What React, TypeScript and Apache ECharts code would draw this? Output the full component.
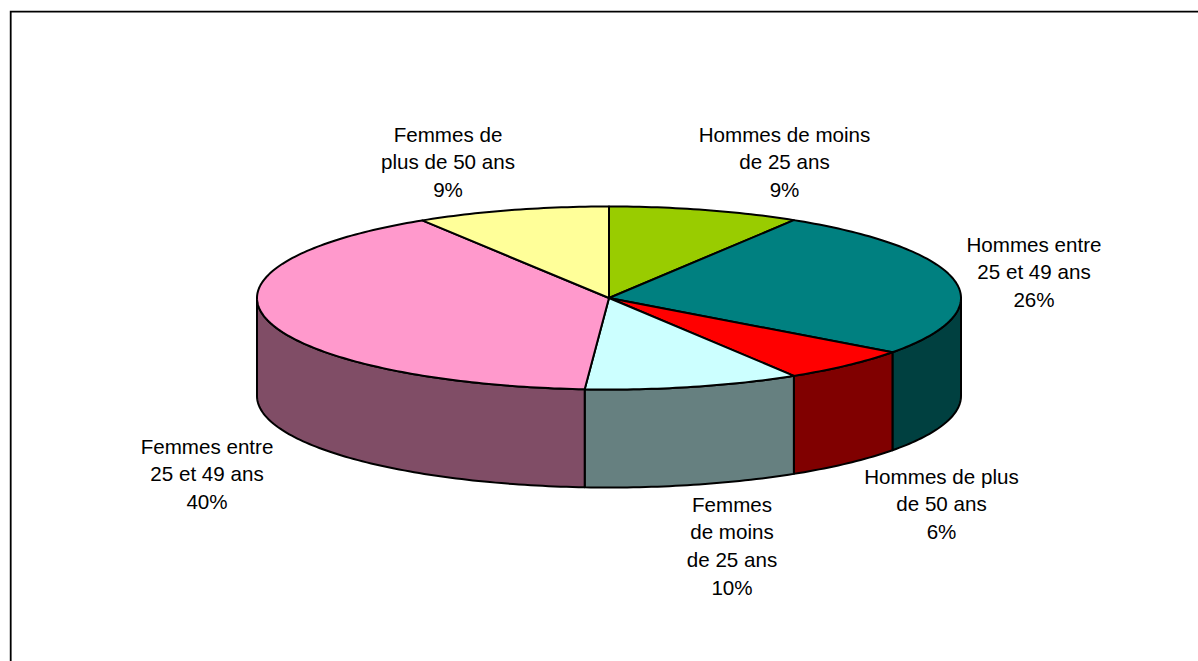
import React, { useEffect, useRef } from "react";
import * as echarts from "echarts";

const categories = [
  ["Hommes de moins", "de 25 ans"],
  ["Hommes entre", "25 et 49 ans"],
  ["Hommes de plus", "de 50 ans"],
  ["Femmes", "de moins", "de 25 ans"],
  ["Femmes entre", "25 et 49 ans"],
  ["Femmes de", "plus de 50 ans"],
];
const shares = [8.8, 26.3, 6.1, 9.9, 40, 8.9];
const topColors = ["#99CC00", "#008080", "#FF0000", "#CCFFFF", "#FF99CC", "#FFFF99"];
const sideColors = ["#4D6600", "#004040", "#800000", "#668080", "#804D66", "#808000"];
const labelCentres = [
  [784.5, 134.2],
  [1034, 244.2],
  [941.5, 476.2],
  [732, 504.2],
  [207, 446.2],
  [448, 134.2],
];

const CX = 609, CY = 298, RX = 352, RY = 91.5, DEPTH = 98;
const LINE_H = 27.6;
const total = shares.reduce((a, b) => a + b, 0);

const pt = (deg: number, dy = 0): number[] => {
  const r = (deg * Math.PI) / 180;
  return [CX + RX * Math.sin(r), CY - RY * Math.cos(r) + dy];
};

const arc = (a0: number, a1: number, dy = 0): number[][] => {
  const n = Math.max(2, Math.ceil(Math.abs(a1 - a0)));
  const out: number[][] = [];
  for (let i = 0; i <= n; i++) out.push(pt(a0 + ((a1 - a0) * i) / n, dy));
  return out;
};

const renderItem = (params: any, api: any) => {
  const i = params.dataIndex;
  const before = shares.slice(0, i).reduce((a, b) => a + b, 0);
  const a0 = (before / total) * 360;
  const a1 = ((before + api.value(0)) / total) * 360;
  const stroke = { stroke: "#000", lineWidth: 2, lineJoin: "round" };
  const children: any[] = [];

  const s0 = Math.max(a0, 90), s1 = Math.min(a1, 270);
  if (s1 > s0) {
    children.push({
      type: "polygon",
      shape: { points: [...arc(s0, s1), ...arc(s1, s0, DEPTH)] },
      style: { fill: sideColors[i], ...stroke },
    });
  }
  children.push({
    type: "polygon",
    shape: { points: [[CX, CY], ...arc(a0, a1)] },
    style: { fill: topColors[i], ...stroke },
  });
  const lines = [...categories[i], `${Math.round(shares[i])}%`];
  const [lx, ly] = labelCentres[i];
  lines.forEach((t, k) => {
    children.push({
      type: "text",
      x: lx,
      y: ly + k * LINE_H,
      style: {
        text: t,
        fill: "#000",
        font: '20.6px "Liberation Sans", Arial, sans-serif',
        align: "center",
        verticalAlign: "middle",
      },
    });
  });
  return { type: "group", children };
};

export default function App() {
  const ref = useRef<HTMLDivElement>(null);
  useEffect(() => {
    document.body.style.margin = "0";
    const chart = echarts.init(ref.current!, null, { renderer: "svg" });
    chart.setOption({
      animation: false,
      backgroundColor: "#fff",
      graphic: [
        {
          type: "polyline",
          shape: { points: [[10.7, 661], [10.7, 11.7], [1198, 11.7]] },
          style: { fill: "none", stroke: "#000", lineWidth: 1.8 },
        },
      ],
      series: [
        {
          type: "custom",
          coordinateSystem: "none",
          renderItem,
          data: shares.map((v, i) => ({ value: [v], name: categories[i].join(" ") })),
        },
      ],
    });
    return () => chart.dispose();
  }, []);
  return <div ref={ref} style={{ width: 1198, height: 661, display: "block", overflow: "hidden" }} />;
}
